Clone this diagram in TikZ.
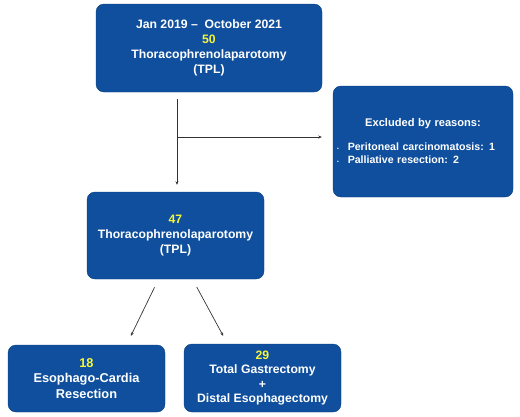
\documentclass[tikz,border=0pt]{standalone}
\usepackage{fontspec}
\setmainfont{Liberation Sans}
\usepackage{tikz}
\usetikzlibrary{arrows.meta, positioning}
\definecolor{flowblue}{HTML}{0F4F9D}
\definecolor{flowedge}{HTML}{0A3E7E}
\definecolor{numyellow}{HTML}{F5F53A}
\definecolor{linkgray}{HTML}{333333}
\newcommand{\num}[1]{\textcolor{numyellow}{#1}}

\begin{document}
\begin{tikzpicture}[
  x=1pt, y=-1pt,
  stage/.style={rectangle, rounded corners=8pt, draw=flowedge, thin,
    fill=flowblue, text=white, align=center, inner sep=2pt,
    font=\fontsize{12.2}{15}\selectfont\bfseries},
  note/.style={rectangle, rounded corners=8pt, draw=flowedge, thin,
    fill=flowblue, text=white, align=left, text width=172pt, inner sep=4pt,
    minimum width=180pt, minimum height=111pt,
    font=\fontsize{10.6}{13}\selectfont\bfseries},
  link/.style={-{Stealth[length=3.5pt, width=3pt]}, linkgray, line width=0.7pt},
]
\useasboundingbox (0,0) rectangle (520,416);

% Cajas
\node[stage, minimum width=226pt, minimum height=88pt] (start) at (209,48)
  {Jan 2019 --\ \ October 2021\\\num{50}\\Thoracophrenolaparotomy\\(TPL)};
\node[note] (excl) at (423,141.5)
  {\hfil{\fontsize{11.1}{13}\selectfont Excluded by reasons:}\hfil\\[11pt]
   {\tiny\textbullet}\hspace{9pt}Peritoneal carcinomatosis: 1\\
   {\tiny\textbullet}\hspace{9pt}Palliative resection: 2};
\node[stage, minimum width=177pt, minimum height=87pt] (tpl) at (175.5,235.5)
  {\num{47}\\Thoracophrenolaparotomy\\(TPL)};
\node[stage, minimum width=157pt, minimum height=67pt,
  font=\fontsize{12.8}{15.5}\selectfont\bfseries] (ecr) at (86.5,378.5)
  {\num{18}\\Esophago-Cardia\\Resection};
\node[stage, minimum width=157pt, minimum height=68pt,
  font=\fontsize{12.2}{14.5}\selectfont\bfseries] (tge) at (262.5,378)
  {\num{29}\\Total Gastrectomy\\+\\Distal Esophagectomy};

% Conectores
\coordinate (split) at (177,137);
\draw[link, shorten <=7pt, shorten >=7pt] (start.south -| split) -- (tpl.north -| split);
\draw[link, shorten >=11pt] (split) -- (excl.west |- split);
\draw[link, shorten <=9pt, shorten >=10pt] ([xshift=-17pt]tpl.south) -- ([xshift=40pt]ecr.north);
\draw[link, shorten <=9pt, shorten >=9pt] ([xshift=17pt]tpl.south) -- ([xshift=-35pt]tge.north);

\end{tikzpicture}
\end{document}
